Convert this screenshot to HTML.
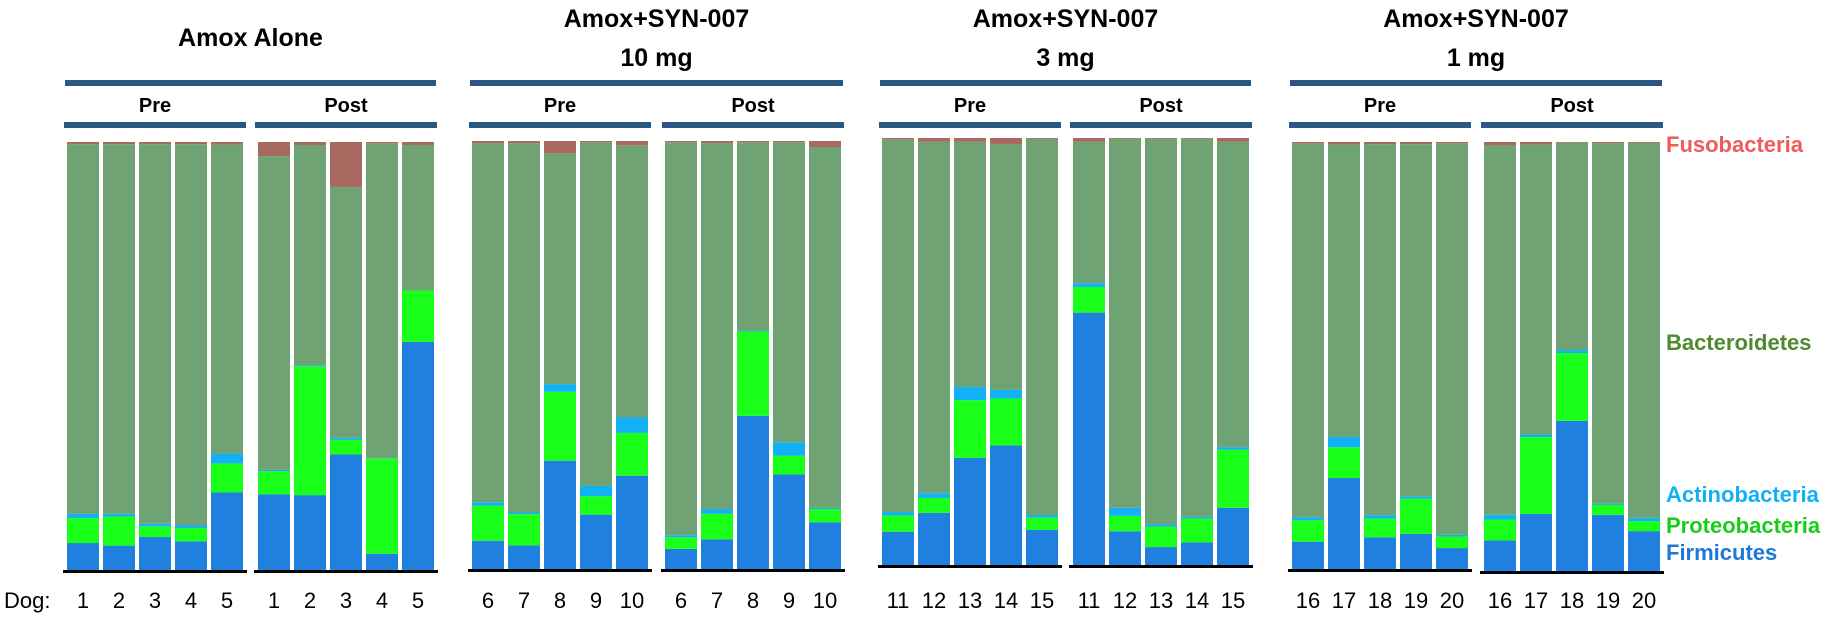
<!DOCTYPE html>
<html><head><meta charset="utf-8"><style>
html,body{margin:0;padding:0;background:#fff;}
svg{display:block;font-family:"Liberation Sans",Arial,sans-serif;}
</style></head><body>
<svg id="chart" width="1843" height="619" viewBox="0 0 1843 619"></svg>
<script>
// Data (% of bar): Firmicutes, Proteobacteria, Actinobacteria, Fusobacteria; Bacteroidetes = rest
const panelTitles = [["Amox Alone"],["Amox+SYN-007","10 mg"],["Amox+SYN-007","3 mg"],["Amox+SYN-007","1 mg"]];
const dogLabels = [["1","2","3","4","5"],["6","7","8","9","10"],["11","12","13","14","15"],["16","17","18","19","20"]];
const firmicutes = [
 [6.3,5.7,7.7,6.7,18.1],[17.7,17.5,27.0,3.8,53.3],
 [6.6,5.5,25.3,12.7,21.8],[4.7,6.9,35.8,22.1,10.9],
 [7.8,12.2,25.1,28.0,8.2],[59.1,7.9,4.2,5.3,13.4],
 [6.4,21.3,7.4,8.2,4.9],[7.1,13.3,35.0,13.1,9.3]];
const proteobacteria = [
 [5.8,6.8,2.5,3.1,6.8],[5.4,30.1,3.4,22.2,12.0],
 [8.2,7.3,16.1,4.3,10.0],[2.7,6.0,19.7,4.4,3.1],
 [3.8,3.5,13.5,11.0,2.9],[6.0,3.6,4.8,5.6,13.6],
 [5.0,7.2,4.4,8.3,2.7],[4.9,17.9,15.8,2.3,2.3]];
const actinobacteria = [
 [1.0,0.6,0.6,0.6,2.3],[0.3,0.2,0.5,0.1,0.0],
 [0.8,0.4,1.8,2.4,3.6],[0.5,1.1,0.2,3.1,0.3],
 [0.8,1.1,3.1,2.0,0.6],[0.9,1.9,0.5,0.4,0.6],
 [0.7,2.4,0.8,0.5,0.4],[1.1,0.6,0.7,0.3,0.8]];
const fusobacteria = [
 [0.5,0.5,0.5,0.5,0.6],[3.3,0.7,10.5,0.3,0.7],
 [0.5,0.5,2.9,0.3,1.0],[0.3,0.5,0.3,0.3,1.4],
 [0.3,0.9,0.9,1.4,0.2],[0.9,0.2,0.2,0.2,0.9],
 [0.4,0.6,0.5,0.5,0.3],[0.8,0.6,0.1,0.3,0.2]];
const legendLabels = ["Fusobacteria","Bacteroidetes","Actinobacteria","Proteobacteria","Firmicutes"];

const NS="http://www.w3.org/2000/svg";
const svg=document.getElementById('chart');
function mk(tag,attrs,parent){const e=document.createElementNS(NS,tag);for(const k in attrs)e.setAttribute(k,attrs[k]);(parent||svg).appendChild(e);return e;}
const colors={firm:"#1f80e0",prot:"#1aff1a",act:"#12b0f5",bact:"#70a373",fuso:"#a86a60"};
// group layout: left x of first bar, top y, baseline y
const groupX=[67,258,472,665,882,1073,1292,1484];
const groupTop=[142,142,141,141,138,138,142,142];
const groupBase=[570,570,569,569,565,565,569,571];
const pitch=36, barW=32;
const lineColor="#2b5784";
for(let p=0;p<4;p++){
  const gPre=p*2, gPost=p*2+1;
  const x0=groupX[gPre]-2, x1=groupX[gPost]+4*pitch+barW+2;
  const cx=(x0+x1)/2;
  const tl=panelTitles[p];
  tl.forEach((t,i)=>{
    const y = tl.length===1?46:(27+i*39);
    const tx=mk('text',{x:cx,y:y,'text-anchor':'middle','font-size':25,'font-weight':'bold',fill:'#000'});
    tx.textContent=t;
    
    
  });
  const tlLine=mk('rect',{x:x0,y:80,width:x1-x0,height:6,fill:lineColor});
  
  
  [gPre,gPost].forEach((g,k)=>{
    const gx0=groupX[g]-3, gx1=groupX[g]+4*pitch+barW+3;
    const lbl=mk('text',{x:(gx0+gx1)/2,y:112,'text-anchor':'middle','font-size':20,'font-weight':'bold',fill:'#000'});
    lbl.textContent=k===0?"Pre":"Post";
    
    
    const gl=mk('rect',{x:gx0,y:122,width:gx1-gx0,height:6,fill:lineColor});
    
    
    const top=groupTop[g], base=groupBase[g], H=base-top;
    const yS=v=>H*v/100;
    for(let i=0;i<5;i++){
      const bx=groupX[g]+i*pitch;
      const f=firmicutes[g][i], pr=proteobacteria[g][i], ac=actinobacteria[g][i], fu=fusobacteria[g][i];
      const ba=100-f-pr-ac-fu;
      const segs=[["firm",f],["prot",pr],["act",ac],["bact",ba],["fuso",fu]];
      let cum=0;
      segs.forEach(s=>{
        const h=yS(s[1]);
        const r=mk('rect',{x:bx,y:base-yS(cum)-h,width:barW,height:Math.max(h,0),fill:colors[s[0]]});
        
        
        cum+=s[1];
      });
      const dl=mk('text',{x:bx+barW/2,y:608,'text-anchor':'middle','font-size':22,fill:'#000'});
      dl.textContent=dogLabels[p][i];
      
      
    }
    const ax=mk('rect',{x:groupX[g]-4,y:base,width:4*pitch+barW+8,height:3,fill:'#000'});
    
    
  });
}
const dog=mk('text',{x:4,y:608,'font-size':22,fill:'#000'});
dog.textContent="Dog:";


const legY=[152,350,502,533,560];
const legC=["#ef5a5a","#4f8a2e","#12b0f5","#1acc1a","#1f78d8"];
legendLabels.forEach((t,i)=>{
  const e=mk('text',{x:1666,y:legY[i],'font-size':22,'font-weight':'bold',fill:legC[i]});
  e.textContent=t;
  
  
});
</script>
</body></html>
